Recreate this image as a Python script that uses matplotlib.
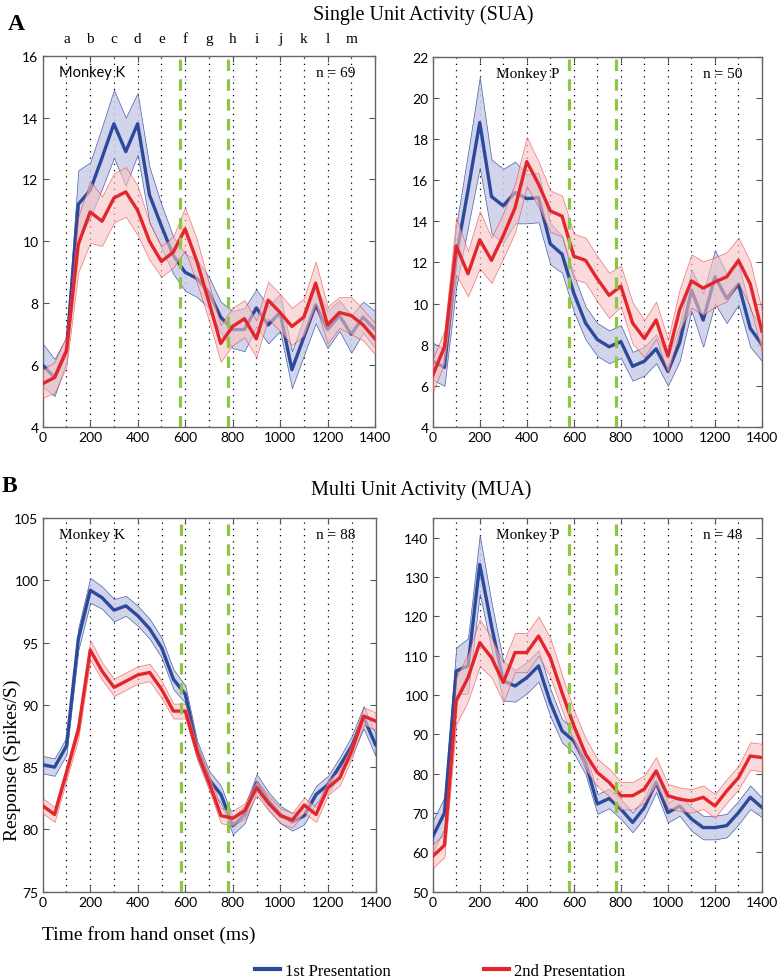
import numpy as np
import matplotlib
matplotlib.use("Agg")
import matplotlib.pyplot as plt
from matplotlib.lines import Line2D

# time bins (ms from hand onset)
t = np.arange(0, 1401, 50)

# SUA, monkey K
sua_k_first = [6.0, 5.6, 6.5, 11.2, 11.65, 12.7, 13.8, 12.9, 13.8, 11.5, 10.5, 9.55, 9.0, 8.8, 8.35,
               7.55, 7.15, 7.15, 7.85, 7.3, 7.7, 5.85, 6.9, 7.95, 7.15, 7.6, 7.0, 7.55, 7.15]
sua_k_first_se = [0.7, 0.6, 0.4, 1.1, 0.9, 1.0, 1.1, 1.1, 1.0, 0.9, 0.7, 0.6, 0.6, 0.6, 0.5,
                  0.5, 0.6, 0.7, 0.6, 0.6, 0.6, 0.6, 0.6, 0.6, 0.6, 0.5, 0.6, 0.5, 0.6]
sua_k_second = [5.4, 5.6, 6.45, 9.9, 10.95, 10.65, 11.4, 11.6, 11.0, 10.0, 9.35, 9.65, 10.4, 9.35, 8.05,
                6.7, 7.25, 7.5, 6.85, 8.1, 7.7, 7.25, 7.55, 8.65, 7.3, 7.7, 7.6, 7.3, 6.85]
sua_k_second_se = [0.45, 0.5, 0.5, 0.9, 1.0, 0.8, 0.8, 0.8, 0.8, 0.6, 0.5, 0.5, 0.7, 0.7, 0.6,
                   0.6, 0.6, 0.6, 0.6, 0.6, 0.6, 0.6, 0.6, 0.7, 0.6, 0.5, 0.6, 0.5, 0.5]

# SUA, monkey P
sua_p_first = [7.2, 6.9, 12.3, 15.5, 18.8, 15.2, 14.75, 15.4, 15.1, 15.15, 12.9, 12.4, 10.5, 9.05, 8.25,
               7.9, 8.15, 6.95, 7.2, 7.8, 6.7, 8.1, 10.65, 9.2, 11.3, 10.25, 10.95, 8.8, 8.0]
sua_p_first_se = [0.9, 0.9, 1.5, 1.8, 2.2, 1.8, 1.8, 1.5, 1.2, 1.2, 1.0, 0.9, 0.9, 0.8, 0.8,
                  0.8, 0.8, 0.7, 0.7, 0.7, 0.7, 0.9, 1.0, 1.3, 1.3, 1.2, 1.0, 0.9, 0.8]
sua_p_second = [6.5, 7.9, 12.8, 11.45, 13.1, 12.1, 13.3, 14.65, 16.9, 15.8, 14.5, 14.25, 12.3, 12.1, 11.2,
                10.4, 10.85, 9.05, 8.3, 9.2, 7.45, 9.7, 11.1, 10.75, 11.05, 11.3, 12.1, 10.95, 8.65]
sua_p_second_se = [0.8, 0.8, 1.4, 1.1, 1.4, 1.1, 1.1, 1.2, 1.2, 1.1, 1.0, 1.0, 1.1, 1.1, 1.1,
                   1.1, 1.0, 1.0, 0.9, 0.9, 0.8, 1.0, 1.3, 1.3, 1.2, 1.2, 1.1, 1.1, 1.0]

# MUA, monkey K
mua_k_first = [85.2, 85.0, 86.7, 95.3, 99.2, 98.6, 97.6, 97.95, 97.15, 96.1, 94.6, 92.05, 90.85, 86.4, 84.0,
               82.8, 80.3, 81.2, 83.75, 82.3, 81.2, 80.6, 81.1, 82.8, 83.6, 85.1, 86.7, 89.0, 86.8]
mua_k_first_se = [0.7, 0.7, 0.7, 0.9, 1.0, 0.9, 0.9, 0.8, 0.8, 0.8, 0.8, 0.8, 0.7, 0.7, 0.7,
                  0.7, 0.7, 0.7, 0.7, 0.7, 0.7, 0.7, 0.7, 0.7, 0.7, 0.7, 0.8, 0.9, 0.9]
mua_k_second = [81.9, 81.2, 84.55, 88.0, 94.4, 92.7, 91.4, 91.9, 92.4, 92.6, 91.25, 89.5, 89.5, 86.2, 83.75,
                81.1, 80.9, 81.5, 83.35, 82.1, 81.1, 80.75, 81.95, 81.2, 83.35, 84.15, 86.3, 89.1, 88.7]
mua_k_second_se = [0.6, 0.6, 0.6, 0.7, 0.8, 0.7, 0.7, 0.7, 0.7, 0.7, 0.7, 0.6, 0.6, 0.6, 0.6,
                   0.6, 0.6, 0.6, 0.6, 0.6, 0.6, 0.6, 0.6, 0.6, 0.6, 0.6, 0.6, 0.7, 0.7]

# MUA, monkey P
mua_p_first = [64.0, 70.0, 106.1, 107.4, 133.2, 117.6, 103.6, 102.3, 104.4, 107.4, 98.1, 90.9, 88.3, 82.8, 72.3,
               73.7, 71.0, 67.6, 71.4, 77.8, 70.1, 71.8, 68.5, 66.3, 66.3, 66.8, 70.1, 74.0, 71.4]
mua_p_first_se = [4, 4, 6, 7, 7.5, 6, 5, 4, 4, 4, 3.5, 3, 3, 3, 2.5,
                  2.5, 2.5, 2.5, 2.5, 2.5, 2.5, 2.5, 3, 3, 3, 3, 3, 3, 2.5]
mua_p_second = [59.0, 61.8, 98.5, 104.4, 113.3, 109.5, 103.2, 110.8, 110.8, 115.0, 109.5, 100.6, 92.2, 85.0, 80.3,
                77.8, 74.4, 74.4, 76.1, 80.7, 74.4, 73.5, 73.1, 74.0, 71.8, 75.6, 79.0, 84.5, 84.1]
mua_p_second_se = [3, 3, 6, 6, 6, 5, 5, 5, 5, 5, 5, 4.5, 4, 4, 3.5,
                   3.5, 3.5, 3.5, 3.5, 3.5, 3, 3, 3, 3, 3, 3, 3, 3.5, 3.5]

epoch_letters = list("abcdefghijklm")
epoch_times = [100, 200, 300, 400, 500, 600, 700, 800, 900, 1000, 1100, 1200, 1300]
event_times = [580, 780]

panels = [
    dict(first=sua_k_first, fse=sua_k_first_se, second=sua_k_second, sse=sua_k_second_se,
         ylim=(4, 16), yticks=range(4, 17, 2), monkey="Monkey K", n="n = 69", mfont="sans", mx=70, letters=True),
    dict(first=sua_p_first, fse=sua_p_first_se, second=sua_p_second, sse=sua_p_second_se,
         ylim=(4, 22), yticks=range(4, 23, 2), monkey="Monkey P", n="n = 50", mfont="serif", mx=270, letters=False),
    dict(first=mua_k_first, fse=mua_k_first_se, second=mua_k_second, sse=mua_k_second_se,
         ylim=(75, 105), yticks=range(75, 106, 5), monkey="Monkey K", n="n = 88", mfont="serif", mx=70, letters=False),
    dict(first=mua_p_first, fse=mua_p_first_se, second=mua_p_second, sse=mua_p_second_se,
         ylim=(50, 145), yticks=range(50, 141, 10), monkey="Monkey P", n="n = 48", mfont="serif", mx=270, letters=False),
]

blue = "#2b4a9c"
red = "#e3262b"
serif = "Liberation Serif"
sans = "Lato"

fig = plt.figure(figsize=(7.79, 9.79), dpi=100)
W, H = 779, 979
boxes = [(42.7, 56.7, 375, 428), (432.7, 57.7, 762, 428),
         (42.7, 519, 375.5, 892.7), (432.7, 519, 762, 892.7)]

for p, (x0, y0, x1, y1) in zip(panels, boxes):
    ax = fig.add_axes([x0 / W, 1 - y1 / H, (x1 - x0) / W, (y1 - y0) / H])
    f = np.array(p["first"]); fs = np.array(p["fse"])
    s = np.array(p["second"]); ss = np.array(p["sse"])

    for xv in epoch_times:
        ax.axvline(xv, color="black", ls=(0, (1, 4)), lw=0.9, zorder=1)

    ax.fill_between(t, f - fs, f + fs, facecolor="#c9cde8", edgecolor=blue, lw=0.5, alpha=0.85, zorder=2)
    ax.plot(t, f, color=blue, lw=2.4, zorder=3)
    ax.fill_between(t, s - ss, s + ss, facecolor="#f7c2c2", edgecolor=red, lw=0.5, alpha=0.6, zorder=4)
    ax.plot(t, s, color=red, lw=2.4, zorder=5)

    for xv in event_times:
        ax.axvline(xv, color="#8dc63f", ls=(0, (3.6, 2.6)), lw=2.3, zorder=6)

    ax.set_xlim(0, 1400)
    ax.set_ylim(*p["ylim"])
    ax.set_xticks(range(0, 1401, 200))
    ax.set_yticks(list(p["yticks"]))
    ax.tick_params(direction="in", top=True, right=True, length=4, width=0.8,
                   color="#555555", labelsize=10, pad=3)
    for lab in ax.get_xticklabels() + ax.get_yticklabels():
        lab.set_fontfamily(sans)
    for sp in ax.spines.values():
        sp.set_color("#666666")
        sp.set_linewidth(1.0)

    mfam = sans if p["mfont"] == "sans" else serif
    ax.text(p["mx"], 0.955, p["monkey"], transform=ax.get_xaxis_transform(),
            fontsize=11 if mfam == serif else 10.5, family=mfam, va="center", ha="left", zorder=7)
    ax.text(0.94, 0.955, p["n"], transform=ax.transAxes, fontsize=11, family=serif,
            va="center", ha="right", zorder=7)

    if p["letters"]:
        for xv, lt in zip(epoch_times, epoch_letters):
            ax.text(xv, 1.03, lt, transform=ax.get_xaxis_transform(), fontsize=11,
                    family=serif, ha="center", va="bottom")

fig.text(8 / W, 1 - 24 / H, "A", fontsize=17, fontweight="bold", family=serif, va="center", ha="left")
fig.text(423 / W, 1 - 15 / H, "Single Unit Activity (SUA)", fontsize=14.5, family=serif, va="center", ha="center")
fig.text(2 / W, 1 - 487 / H, "B", fontsize=17, fontweight="bold", family=serif, va="center", ha="left")
fig.text(421 / W, 1 - 490 / H, "Multi Unit Activity (MUA)", fontsize=14.5, family=serif, va="center", ha="center")
fig.text(12 / W, 1 - 760 / H, "Response (Spikes/S)", fontsize=14, family=serif, rotation=90,
         va="center", ha="center")
fig.text(42 / W, 1 - 935 / H, "Time from hand onset (ms)", fontsize=14, family=serif, va="center", ha="left")

handles = [Line2D([], [], color=blue, lw=3), Line2D([], [], color=red, lw=3)]
fig.legend(handles, ["1st Presentation", "2nd Presentation"], loc="center",
           bbox_to_anchor=(440 / W, 1 - 972 / H), ncol=2, frameon=False, handlelength=1.5,
           handletextpad=0.3, columnspacing=5.6, prop={"family": serif, "size": 12})

fig.savefig("out.png", dpi=100)
